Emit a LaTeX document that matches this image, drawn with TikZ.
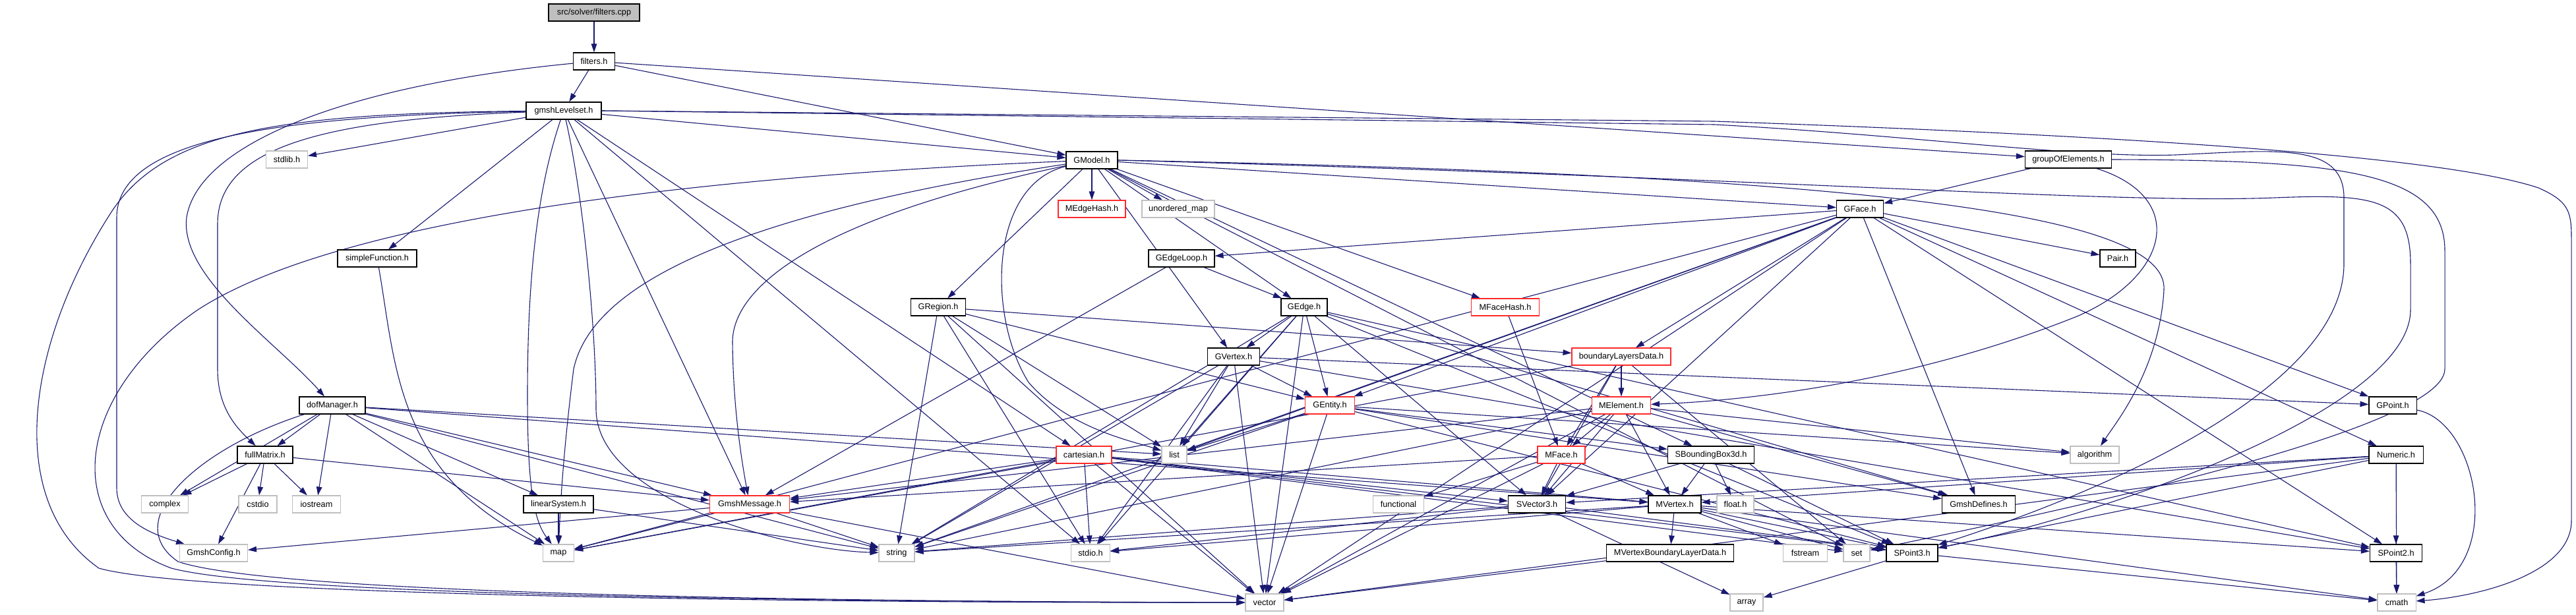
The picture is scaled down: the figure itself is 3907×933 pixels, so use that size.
\documentclass[tikz,border=0pt]{standalone}
\usepackage{fontspec}
\setmainfont{Liberation Sans}
\usetikzlibrary{arrows.meta}
\definecolor{eb}{HTML}{191970}
\definecolor{gb}{HTML}{BFBFBF}
\definecolor{rb}{HTML}{FF2A2A}
\newcommand{\nodefs}{\fontsize{12.7}{14}\selectfont}
\pgfdeclarelayer{bg}\pgfsetlayers{bg,main}
\begin{document}
\begin{tikzpicture}[x=1pt,y=-1pt,
  box/.style={fill=white,minimum height=26pt,inner sep=0pt,font=\nodefs,line width=1.1pt},
  hb/.style={box,draw=black,minimum width=#1},
  hr/.style={box,draw=rb,minimum width=#1},
  hg/.style={box,draw=gb,minimum width=#1},
  e/.style={draw=eb,line width=1.1pt,-{Triangle[length=13pt,width=8.5pt]}}]
\useasboundingbox (0,0) rectangle (3907,933);
\node[hb=138pt,fill=gb] (root) at (901,19) {src/solver/filters.cpp};
\node[hb=63pt] (filtersh) at (901,93) {filters.h};
\node[hb=114pt] (gls) at (855,168) {gmshLevelset.h};
\node[hg=63pt] (stdlib) at (435,242) {stdlib.h};
\node[hb=78pt] (GModel) at (1656,243) {GModel.h};
\node[hb=131pt] (groupOf) at (3137,242) {groupOfElements.h};
\node[hr=102pt] (MEdgeHash) at (1656,317) {MEdgeHash.h};
\node[hg=110pt] (umap) at (1787,317) {unordered\_map};
\node[hb=71pt] (GFace) at (2821,317) {GFace.h};
\node[hb=120pt] (simpleF) at (572,392) {simpleFunction.h};
\node[hb=100pt] (GEdgeLoop) at (1792,392) {GEdgeLoop.h};
\node[hb=54pt] (Pair) at (3212,392) {Pair.h};
\node[hb=83pt] (GRegion) at (1423,466) {GRegion.h};
\node[hb=70pt] (GEdge) at (1978,466) {GEdge.h};
\node[hr=103pt] (MFaceHash) at (2283,466) {MFaceHash.h};
\node[hb=79pt] (GVertex) at (1871,541) {GVertex.h};
\node[hr=150pt] (BLD) at (2459,541) {boundaryLayersData.h};
\node[hb=100pt] (dofM) at (504,615) {dofManager.h};
\node[hr=75pt] (GEntity) at (2017,615) {GEntity.h};
\node[hr=89pt] (MElement) at (2459,615) {MElement.h};
\node[hb=72pt] (GPoint) at (3629,615) {GPoint.h};
\node[hb=84pt] (fullM) at (402,690) {fullMatrix.h};
\node[hr=84pt] (cart) at (1644,690) {cartesian.h};
\node[hg=38pt] (list) at (1781,690) {list};
\node[hr=72pt] (MFace) at (2368,690) {MFace.h};
\node[hb=131pt] (SBB) at (2595,690) {SBoundingBox3d.h};
\node[hg=74pt] (algorithm) at (3177,690) {algorithm};
\node[hb=82pt] (Numeric) at (3634,690) {Numeric.h};
\node[hg=71pt] (complex) at (250,765) {complex};
\node[hg=58pt] (cstdio) at (391,765) {cstdio};
\node[hg=73pt] (iostream) at (480,765) {iostream};
\node[hb=106pt] (linSys) at (847,765) {linearSystem.h};
\node[hr=121pt] (GmshMsg) at (1137,765) {GmshMessage.h};
\node[hg=77pt] (functional) at (2121,765) {functional};
\node[hb=87pt] (SVector3) at (2331,765) {SVector3.h};
\node[hb=80pt] (MVertex) at (2540,765) {MVertex.h};
\node[hg=56pt] (float) at (2632,765) {float.h};
\node[hb=111pt] (GmshDef) at (3001,765) {GmshDefines.h};
\node[hg=103pt] (GmshConfig) at (324,839) {GmshConfig.h};
\node[hg=47pt] (map) at (847,839) {map};
\node[hg=54pt] (string) at (1360,839) {string};
\node[hg=59pt] (stdio) at (1654,839) {stdio.h};
\node[hb=193pt] (MVBLD) at (2533,839) {MVertexBoundaryLayerData.h};
\node[hg=67pt] (fstream) at (2738,839) {fstream};
\node[hg=40pt] (set) at (2816,839) {set};
\node[hb=78pt] (SPoint3) at (2900,839) {SPoint3.h};
\node[hb=79pt] (SPoint2) at (3634,839) {SPoint2.h};
\node[hg=58pt] (vector) at (1918,914) {vector};
\node[hg=50pt] (array) at (2649,914) {array};
\node[hg=58pt] (cmath) at (3635,914) {cmath};

\begin{pgfonlayer}{bg}
\foreach \a/\b in {root/filtersh, filtersh/gls, filtersh/GModel, filtersh/groupOf,
  gls/stdlib, gls/simpleF, gls/GModel, gls/cart, gls/GmshMsg, gls/stdio,
  GModel/MEdgeHash, GModel/umap, GModel/GRegion, GModel/GEdge, GModel/MFaceHash,
  GModel/GFace, GModel/GVertex, GModel/SBB, GModel/set,
  groupOf/GFace,
  GFace/GEdgeLoop, GFace/Pair, GFace/GEntity, GFace/GPoint, GFace/SPoint2, GFace/SVector3,
  GFace/Numeric, GFace/BLD, GFace/list, GFace/string, GFace/vector, GFace/map, GFace/GmshDef,
  GEdgeLoop/GEdge, GEdgeLoop/GmshMsg,
  GRegion/GEntity, GRegion/BLD, GRegion/string, GRegion/stdio, GRegion/list, GRegion/vector,
  GEdge/GVertex, GEdge/GEntity, GEdge/list, GEdge/string, GEdge/vector, GEdge/stdio,
  GEdge/SVector3, GEdge/SPoint3, GEdge/SPoint2, GEdge/GmshDef,
  GVertex/GEntity, GVertex/GPoint, GVertex/list, GVertex/string, GVertex/vector, GVertex/stdio, GVertex/SPoint2,
  MFaceHash/MFace,
  BLD/MElement, BLD/MFace, BLD/SVector3, BLD/map, BLD/set,
  GEntity/list, GEntity/string, GEntity/vector, GEntity/SBB, GEntity/GmshDef, GEntity/SPoint3, GEntity/algorithm,
  MElement/MVertex, MElement/MFace, MElement/SVector3, MElement/GmshMsg, MElement/vector,
  MElement/string, MElement/algorithm, MElement/GmshDef,
  dofM/fullM, dofM/complex, dofM/iostream, dofM/map, dofM/linSys, dofM/string, dofM/list,
  dofM/GmshMsg, dofM/MVertex,
  fullM/complex, fullM/cstdio, fullM/iostream, fullM/GmshConfig, fullM/GmshMsg,
  cart/GmshMsg, cart/map, cart/vector, cart/stdio, cart/set, cart/SVector3, cart/SPoint3, cart/MVertex,
  MFace/MVertex, MFace/SVector3, MFace/functional, MFace/vector, MFace/GmshMsg,
  SBB/SPoint3, SBB/SVector3, SBB/float, SBB/MVertex,
  Numeric/SPoint2, Numeric/SPoint3, Numeric/SVector3, Numeric/cmath, Numeric/vector, Numeric/MVertex,
  linSys/map, linSys/string,
  GmshMsg/map, GmshMsg/string, GmshMsg/vector, GmshMsg/GmshConfig,
  SVector3/SPoint3, SVector3/string, SVector3/stdio, SVector3/array,
  MVertex/MVBLD, MVertex/fstream, MVertex/set, MVertex/SPoint3, MVertex/SPoint2,
  MVertex/stdio, MVertex/string, MVertex/cmath,
  MVBLD/vector, SPoint3/cmath, SPoint3/array, SPoint2/cmath}
  \draw[e] (\a) -- (\b);
\draw[e] (filtersh) .. controls (520,130) and (300,220) .. (283,330) .. controls (272,420) and (420,520) .. (dofM);
\draw[e] (gls) .. controls (420,172) and (250,200) .. (170,320) .. controls (40,520) and (5,760) .. (150,862) .. controls (300,905) and (1300,915) .. (vector);
\draw[e] (gls) .. controls (420,176) and (177,210) .. (177,330) -- (177,740) .. controls (177,790) and (230,810) .. (GmshConfig);
\draw[e] (gls) .. controls (470,182) and (330,230) .. (330,340) -- (330,560) .. controls (330,620) and (360,650) .. (fullM);
\draw[e] (gls) .. controls (810,300) and (800,450) .. (800,600) .. controls (800,740) and (810,790) .. (map);
\draw[e] (gls) .. controls (885,300) and (904,500) .. (904,620) .. controls (904,760) and (1200,835) .. (string);
\draw[e] (gls.east) -- (2600,184) .. controls (3200,205) and (3700,235) .. (3850,285) .. controls (3895,305) and (3900,320) .. (3900,360) -- (3900,790) .. controls (3900,870) and (3760,905) .. (cmath);
\draw[e] (gls.east) -- (2600,189) .. controls (2900,205) and (3150,240) .. (3300,235) .. controls (3450,228) and (3555,215) .. (3555,300) -- (3555,400) .. controls (3555,600) and (3150,760) .. (SPoint3);
\draw[e] (simpleF) .. controls (600,550) and (600,720) .. (map);
\draw[e] (GModel) .. controls (1000,270) and (500,340) .. (300,470) .. controls (110,600) and (90,800) .. (260,862) .. controls (420,905) and (1300,913) .. (vector);
\draw[e] (GModel) .. controls (1500,280) and (1497,480) .. (1560,580) .. controls (1620,650) and (1720,670) .. (list);
\draw[e] (GModel) .. controls (1150,320) and (900,420) .. (870,560) .. controls (855,680) and (850,760) .. (map);
\draw[e] (GModel) .. controls (1200,340) and (1110,450) .. (1111,520) .. controls (1112,620) and (1125,700) .. (GmshMsg);
\draw[e] (GModel.east) .. controls (2800,265) and (3290,320) .. (3282,440) .. controls (3275,560) and (3210,640) .. (algorithm);
\draw[e] (GModel.east) .. controls (2700,270) and (3200,310) .. (3450,300) .. controls (3600,294) and (3656,300) .. (3656,400) -- (3656,470) .. controls (3656,620) and (3200,780) .. (SPoint3);
\draw[e] (groupOf) .. controls (3320,300) and (3290,420) .. (3150,480) .. controls (2900,580) and (2650,608) .. (MElement);
\draw[e] (groupOf.east) .. controls (3550,243) and (3708,260) .. (3708,380) -- (3708,560) .. controls (3708,660) and (3000,800) .. (set);
\draw[e] (GPoint) .. controls (3760,640) and (3800,860) .. (cmath);
\draw[e] (dofM) .. controls (300,680) and (180,790) .. (270,852) .. controls (420,903) and (1300,913) .. (vector);
\end{pgfonlayer}
\end{tikzpicture}
\end{document}
